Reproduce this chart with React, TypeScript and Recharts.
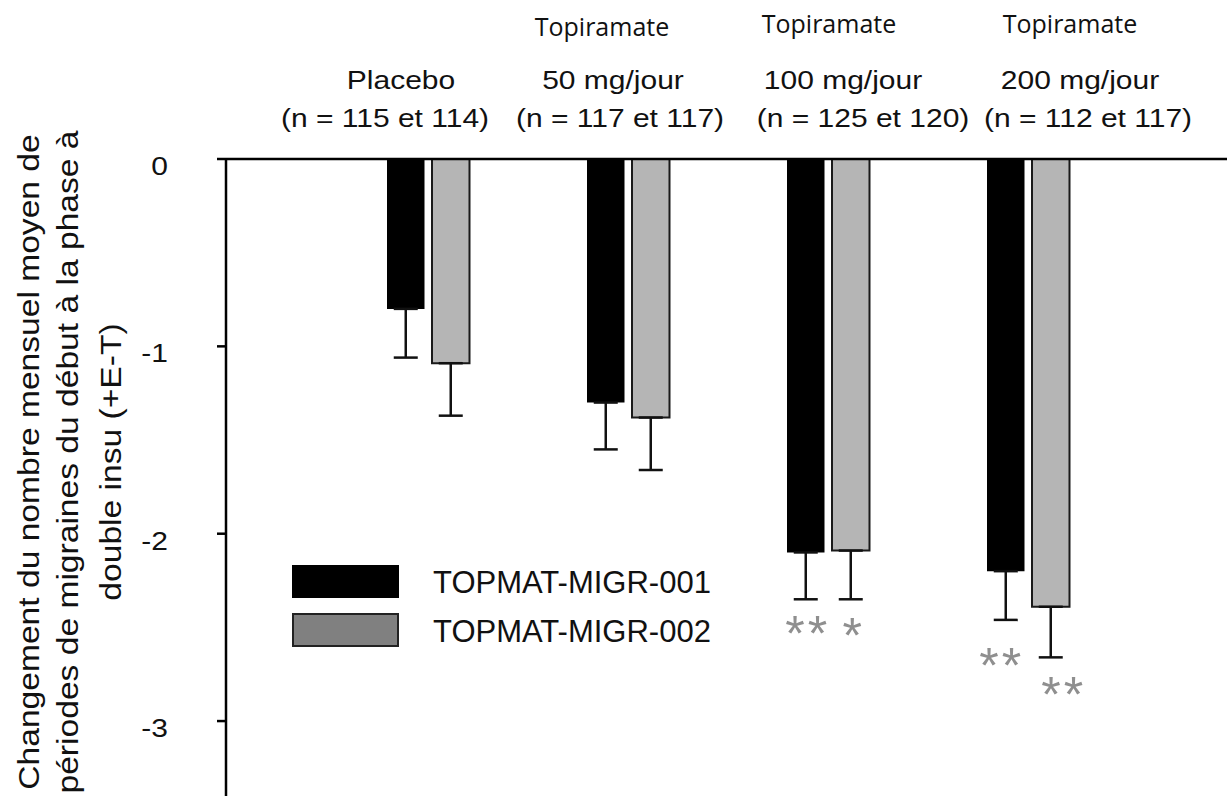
import React from 'react';
import { BarChart, Bar, XAxis, YAxis, ErrorBar, LabelList, Legend } from 'recharts';

// ---- data ----
const categories = ['Placebo', '50 mg/jour', '100 mg/jour', '200 mg/jour'];
const drugLabels = ['', 'Topiramate', 'Topiramate', 'Topiramate'];
const sampleLabels = ['(n = 115 et 114)', '(n = 117 et 117)', '(n = 125 et 120)', '(n = 112 et 117)'];
const migr001 = [-0.8, -1.3, -2.1, -2.2];
const migr002 = [-1.09, -1.38, -2.09, -2.39];
const sem001 = [0.26, 0.25, 0.25, 0.26];
const sem002 = [0.28, 0.28, 0.26, 0.27];
const sig001 = ['', '', '**', '**'];
const sig002 = ['', '', '*', '**'];
const yTicks = [0, -1, -2, -3];
const seriesNames = ['TOPMAT-MIGR-001', 'TOPMAT-MIGR-002'];
const yTitleLines = [
  'Changement du nombre mensuel moyen de',
  'périodes de migraines du début à la phase à',
  'double insu (+E-T)',
];

// ---- styles / layout ----
const W = 1227;
const H = 796;
const FONT = '"Liberation Sans", Arial, sans-serif';
const INK = '#111';
const drugDx = [0, -26, 1, 42];
const drugY = [0, 36, 33, 33];
const catDx = [-27, -15, 15, 52];
const nDx = [-43, -8, 35, 60];
const sigDx001 = [0, 0, 2, -4];
const sigDy001 = [0, 0, 24, 35];
const sigDx002 = [0, 0, 3, 13];
const sigDy002 = [0, 0, 26, 27];
const yTitleX = [39, 78, 121];

const data = categories.map((name, i) => ({
  name,
  s1: migr001[i],
  s2: migr002[i],
  e1: [sem001[i], 0],
  e2: [sem002[i], 0],
  g1: sig001[i],
  g2: sig002[i],
}));

const TopTick = (props: any) => {
  const { x, payload } = props;
  const i = categories.indexOf(payload.value);
  return (
    <g fill={INK}>
      {drugLabels[i] ? (
        <text x={x + drugDx[i]} y={drugY[i]} textAnchor="middle" fontFamily='"Open Sans", sans-serif' fontSize={25} fill={INK}>
          {drugLabels[i]}
        </text>
      ) : null}
      <text transform={`translate(${x + catDx[i]},89) scale(1.2,1)`} textAnchor="middle" fontFamily={FONT} fontSize={25} fill={INK}>
        {categories[i]}
      </text>
      <text transform={`translate(${x + nDx[i]},127) scale(1.2,1)`} textAnchor="middle" fontFamily={FONT} fontSize={25} fill={INK}>
        {sampleLabels[i]}
      </text>
    </g>
  );
};

const LeftTick = (props: any) => {
  const { x, y, payload } = props;
  return (
    <text transform={`translate(${x},${y + 16}) scale(1.2,1)`} textAnchor="end" fontFamily={FONT} fontSize={25} fill={INK}>
      {payload.value}
    </text>
  );
};

const YTitle = () => (
  <g>
    {yTitleLines.map((t, i) => (
      <text
        key={i}
        transform={`translate(${yTitleX[i]},462) rotate(-90) scale(1.12,1)`}
        textAnchor="middle"
        fontFamily={FONT}
        fontSize={30}
        fill={INK}
      >
        {t}
      </text>
    ))}
  </g>
);

const makeSig = (values: number[], errs: number[], dxs: number[], dys: number[]) => (props: any) => {
  const { x, y, width, height, value, index } = props;
  if (!value) return null;
  const v = values[index];
  const bottom = Math.max(y, y + height);
  const ppu = Math.abs(height) / Math.abs(v);
  const errEnd = bottom + errs[index] * ppu;
  const cx = x + width / 2 + dxs[index];
  const cy = errEnd + dys[index];
  return (
    <text x={cx} y={cy + 28} textAnchor="middle" fontFamily={FONT} fontSize={50} fill="#8f8f8f" letterSpacing={3}>
      {value}
    </text>
  );
};

const LegendBox = () => (
  <svg width={440} height={92}>
    <rect x={1} y={2} width={107} height={33} fill="#000" />
    <rect x={2} y={51} width={105} height={32} fill="#808080" stroke="#222" strokeWidth={2} />
    <text x={142} y={30} fontFamily={FONT} fontSize={31} fill={INK}>{seriesNames[0]}</text>
    <text x={142} y={79} fontFamily={FONT} fontSize={31} fill={INK}>{seriesNames[1]}</text>
  </svg>
);

export default function App() {
  return (
    <div style={{ position: 'absolute', left: 0, top: 0, width: W, height: H, background: '#fff', overflow: 'hidden' }}>
      <BarChart width={W} height={H} data={data} margin={{ top: 0, right: 0, bottom: 0, left: 0 }} barGap={7.5}>
        <XAxis
          dataKey="name"
          orientation="top"
          height={159}
          padding={{ left: 102, right: 99 }}
          axisLine={{ stroke: '#000', strokeWidth: 2.5 }}
          tickLine={false}
          tick={<TopTick />}
          interval={0}
        />
        <YAxis
          type="number"
          domain={[-3.4, 0]}
          allowDataOverflow
          ticks={yTicks}
          width={226}
          tickSize={9}
          tickMargin={49}
          axisLine={{ stroke: '#000', strokeWidth: 2.5 }}
          tickLine={{ stroke: '#000', strokeWidth: 2.5 }}
          tick={<LeftTick />}
          label={<YTitle />}
        />
        <Legend
          layout="vertical"
          verticalAlign="middle"
          align="center"
          wrapperStyle={{ position: 'absolute', left: 291, top: 563, width: 440, height: 92 }}
          content={() => <LegendBox />}
        />
        <Bar dataKey="s1" name={seriesNames[0]} fill="#000" barSize={37.5} isAnimationActive={false}>
          <ErrorBar dataKey="e1" width={12} stroke="#111" strokeWidth={2.5} direction="y" isAnimationActive={false} />
          <LabelList dataKey="g1" content={makeSig(migr001, sem001, sigDx001, sigDy001)} />
        </Bar>
        <Bar dataKey="s2" name={seriesNames[1]} fill="#b5b5b5" stroke="#1a1a1a" strokeWidth={2} barSize={37.5} isAnimationActive={false}>
          <ErrorBar dataKey="e2" width={12} stroke="#111" strokeWidth={2.5} direction="y" isAnimationActive={false} />
          <LabelList dataKey="g2" content={makeSig(migr002, sem002, sigDx002, sigDy002)} />
        </Bar>
      </BarChart>
    </div>
  );
}
